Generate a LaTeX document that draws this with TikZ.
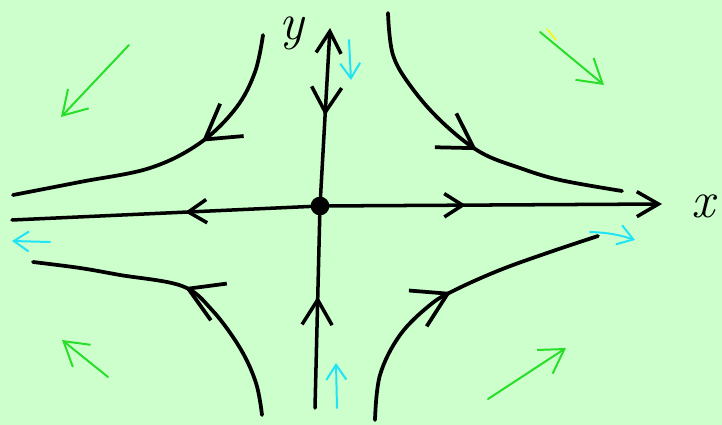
\documentclass[tikz,border=0pt]{standalone}
\usepackage{fontspec}
\usetikzlibrary{arrows.meta, decorations.markings}

\definecolor{paper}{RGB}{204,255,204}
\definecolor{hintcyan}{RGB}{30,228,245}
\definecolor{hintgreen}{RGB}{40,222,40}

\tikzset{
    trajtip/.tip={Straight Barb[length=1.0cm, width=1.2cm]},
    ytip/.tip={Straight Barb[length=0.75cm, width=0.9cm]},
    xtip/.tip={Straight Barb[length=0.55cm, width=0.7cm]},
    endtip/.tip={Straight Barb[length=0.65cm, width=0.75cm]}
}

\begin{document}
\begin{tikzpicture}[
    x=0.03cm, y=-0.03cm,
    line cap=round, line join=round,
    traj/.style={
        draw=black,
        line width=3.2pt
    },
    axis_line/.style={
        draw=black,
        line width=3pt
    },
    mid/.style 2 args={
        postaction={decorate},
        decoration={markings, mark=at position #1 with {\arrow{#2}}}
    },
    hint_cyan/.style={
        draw=hintcyan,
        line width=1.7pt,
        -{Straight Barb[length=0.45cm, width=0.6cm]}
    },
    hint_green/.style={
        draw=hintgreen,
        line width=1.7pt,
        -{Straight Barb[length=0.7cm, width=0.85cm]}
    },
    axis_label/.style={
        font=\fontsize{44}{44}\selectfont\itshape,
        inner sep=0pt,
        anchor=base
    }
]

    % Paper
    \fill[paper] (0,0) rectangle (722,425);
    \useasboundingbox (0,0) rectangle (722,425);

    % Saddle point
    \node[circle, fill=black, inner sep=0pt, minimum size=0.56cm] (O) at (320,206) {};

    % Axis ends
    \coordinate (xleft) at (12,220);
    \coordinate (xright) at (662,204);
    \coordinate (ytop) at (330,28);
    \coordinate (ybot) at (315,408);

    % Axes
    \draw[axis_line, mid={0.42}{xtip}] (O) -- (xleft);
    \draw[axis_line, mid={0.41}{xtip}, -endtip] (O) -- (xright);
    \draw[axis_line, mid={0.52}{ytip}, endtip-] (ytop) -- (O);
    \draw[axis_line, mid={0.58}{ytip}] (ybot) -- (O);

    \node[axis_label] (ylbl) at (292,40) {y};
    \node[axis_label] (xlbl) at (703,218) {x};

    % Trajectories
    \draw[traj, mid={0.39}{trajtip}] plot[smooth, tension=0.6] coordinates {
        (263,35) (255,72) (236,108) (200,143) (150,168) (80,182) (13,195)};
    \draw[traj, mid={0.53}{trajtip}] plot[smooth, tension=0.6] coordinates {
        (388,13) (393,55) (412,88) (442,122) (480,152) (520,168) (560,180) (622,191)};
    \draw[traj, mid={0.5}{trajtip}] plot[smooth, tension=0.6] coordinates {
        (262,415) (256,383) (240,348) (212,310) (182,286) (120,275) (80,268) (33,262)};
    \draw[traj, mid={0.5}{trajtip}] plot[smooth, tension=0.6] coordinates {
        (375,420) (380,375) (400,335) (430,305) (455,290) (500,270) (550,252) (598,236)};

    % Cyan hints
    \draw[hint_cyan] (349,40) -- (351,80);
    \draw[hint_cyan] (50,242) -- (12,241);
    \draw[hint_cyan] (590,232) to[bend left=8] (635,240);
    \draw[hint_cyan] (337,408) -- (336,363);

    % Green hints
    \draw[hint_green] (129,45) -- (61,117);
    \draw[hint_green] (540,32) -- (604,85);
    \draw[hint_green] (108,377) -- (62,340);
    \draw[hint_green] (488,399) -- (566,348);
    \draw[yellow, line width=1.2pt] (547,29) -- (556,40);

\end{tikzpicture}
\end{document}
